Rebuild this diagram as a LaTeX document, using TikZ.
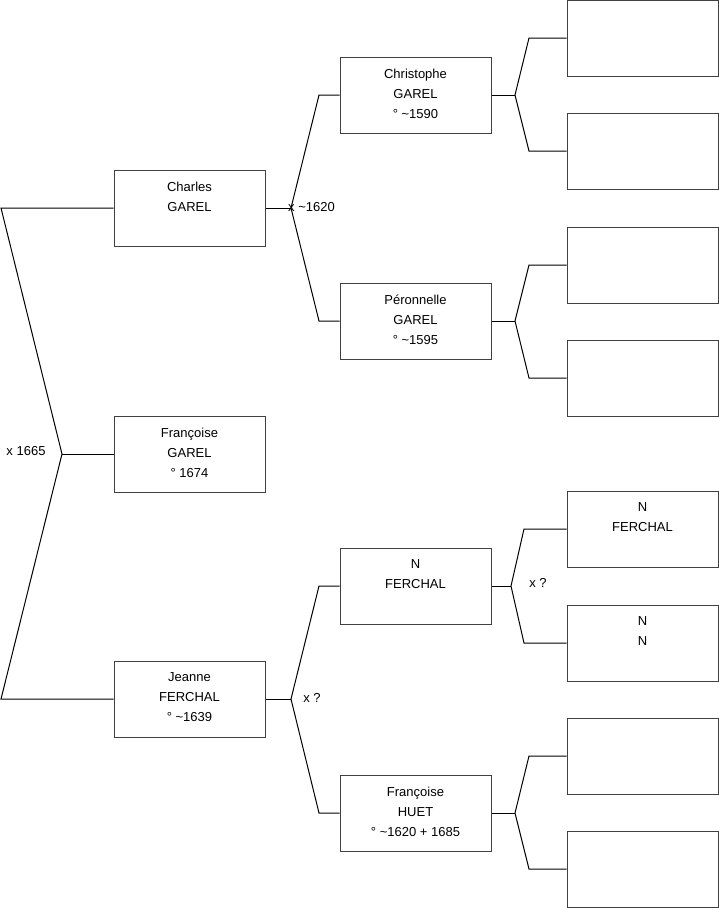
\documentclass[tikz,border=0pt]{standalone}
\usepackage{fontspec}
\setmainfont{Liberation Sans}
\begin{document}
\begin{tikzpicture}[x=1pt,y=-1pt,
  person/.style={draw=black!75, line width=1pt, minimum width=151pt, minimum height=76pt, inner sep=0pt},
  ptext/.style={anchor=north, inner sep=0pt, align=center, font=\fontsize{13pt}{20pt}\selectfont, yshift=-12pt},
  lbl/.style={inner sep=0pt, font=\fontsize{13pt}{20pt}\selectfont},
  link/.style={draw=black, line width=1pt}]
\useasboundingbox (0,0) rectangle (719,908);
% column 1
\node[person] (ch) at (189.5,208) {};
\node[person] (fg) at (189.5,454) {};
\node[person] (je) at (189.5,699) {};
% column 2
\node[person] (cr) at (415.5,95) {};
\node[person] (pe) at (415.5,321) {};
\node[person] (nf) at (415.5,586) {};
\node[person] (hu) at (415.5,813) {};
% column 3
\node[person] (a1) at (642.5,38) {};
\node[person] (a2) at (642.5,151) {};
\node[person] (a3) at (642.5,265) {};
\node[person] (a4) at (642.5,378) {};
\node[person] (a5) at (642.5,529) {};
\node[person] (a6) at (642.5,643) {};
\node[person] (a7) at (642.5,756) {};
\node[person] (a8) at (642.5,869) {};
% texts
\node[ptext] (cht) at (ch.north) {Charles\\GAREL};
\node[ptext] (fgt) at (fg.north) {Françoise\\GAREL\\° 1674};
\node[ptext] (jet) at (je.north) {Jeanne\\FERCHAL\\° \textasciitilde1639};
\node[ptext] (crt) at (cr.north) {Christophe\\GAREL\\° \textasciitilde1590};
\node[ptext] (pet) at (pe.north) {Péronnelle\\GAREL\\° \textasciitilde1595};
\node[ptext] (nft) at (nf.north) {N\\FERCHAL};
\node[ptext] (hut) at (hu.north) {Françoise\\HUET\\° \textasciitilde1620 + 1685};
\node[ptext] (a5t) at (a5.north) {N\\FERCHAL};
\node[ptext] (a6t) at (a6.north) {N\\N};
% junction coordinates
\coordinate (r1) at (1,208);
\coordinate (r2) at (1,699);
\coordinate (j0) at (62,454);
\coordinate (j1) at (291,208);
\coordinate (k1a) at (319,95);
\coordinate (k1b) at (319,321);
\coordinate (j2) at (291,699);
\coordinate (k2a) at (319,586);
\coordinate (k2b) at (319,813);
\coordinate (j3) at (515,95);
\coordinate (k3a) at (529,38);
\coordinate (k3b) at (529,151);
\coordinate (j4) at (515,321);
\coordinate (k4a) at (529,265);
\coordinate (k4b) at (529,378);
\coordinate (j5) at (511,586);
\coordinate (k5a) at (524,529);
\coordinate (k5b) at (524,643);
\coordinate (j6) at (515,813);
\coordinate (k6a) at (529,756);
\coordinate (k6b) at (529,869);
% connectors
\draw[link] (ch.west) -- (r1) -- (j0) -- (r2) -- (je.west);
\draw[link] (j0) -- (fg.west);
\draw[link] (ch.east) -- (j1);
\draw[link] (cr.west) -- (k1a) -- (j1) -- (k1b) -- (pe.west);
\draw[link] (je.east) -- (j2);
\draw[link] (nf.west) -- (k2a) -- (j2) -- (k2b) -- (hu.west);
\draw[link] (cr.east) -- (j3);
\draw[link] (a1.west) -- (k3a) -- (j3) -- (k3b) -- (a2.west);
\draw[link] (pe.east) -- (j4);
\draw[link] (a3.west) -- (k4a) -- (j4) -- (k4b) -- (a4.west);
\draw[link] (nf.east) -- (j5);
\draw[link] (a5.west) -- (k5a) -- (j5) -- (k5b) -- (a6.west);
\draw[link] (hu.east) -- (j6);
\draw[link] (a7.west) -- (k6a) -- (j6) -- (k6b) -- (a8.west);
% labels
\node[lbl] (m0) at (26,451) {x 1665};
\node[lbl, anchor=west] (m1) at (288,207) {x \textasciitilde1620};
\node[lbl] (m2) at (312,698) {x ?};
\node[lbl] (m3) at (538,583) {x ?};
\end{tikzpicture}
\end{document}
